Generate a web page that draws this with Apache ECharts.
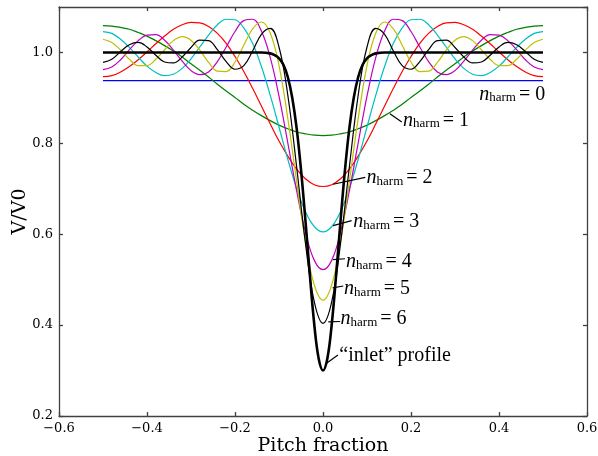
<!DOCTYPE html>
<html>
<head>
<meta charset="utf-8">
<script src="https://cdn.jsdelivr.net/npm/echarts@6/dist/echarts.min.js"></script>
<style>
  html, body { margin: 0; padding: 0; background: #fff; }
  #main { width: 598px; height: 456px; }
</style>
</head>
<body>
<div id="main"></div>
<script>
// sample points of the harmonic curves (pitch fraction)
var xHarm = [-0.50, -0.48, -0.46, -0.44, -0.42, -0.40, -0.38, -0.36, -0.34, -0.32,
  -0.30, -0.28, -0.26, -0.24, -0.22, -0.20, -0.18, -0.16, -0.14, -0.12,
  -0.10, -0.08, -0.06, -0.04, -0.02, 0.00, 0.02, 0.04, 0.06, 0.08,
  0.10, 0.12, 0.14, 0.16, 0.18, 0.20, 0.22, 0.24, 0.26, 0.28,
  0.30, 0.32, 0.34, 0.36, 0.38, 0.40, 0.42, 0.44, 0.46, 0.48, 0.50];

var xMean = [-0.50, 0.50];
var harm0 = [0.938, 0.938];

var harm1 = [1.059, 1.058, 1.055, 1.051, 1.044, 1.036, 1.026, 1.015, 1.003, 0.990, 0.975, 0.961, 0.946, 0.930, 0.915, 0.901, 0.886, 0.873, 0.861, 0.850, 0.840, 0.832, 0.825, 0.821, 0.818,
  0.817,
  0.818, 0.821, 0.825, 0.832, 0.840, 0.850, 0.861, 0.873, 0.886, 0.901, 0.915, 0.930, 0.946, 0.961, 0.975, 0.990, 1.003, 1.015, 1.026, 1.036, 1.044, 1.051, 1.055, 1.058, 1.059];

var harm2 = [0.947, 0.949, 0.957, 0.969, 0.984, 1.001, 1.019, 1.036, 1.051, 1.061, 1.066, 1.065, 1.057, 1.042, 1.020, 0.991, 0.958, 0.921, 0.882, 0.843, 0.805, 0.772, 0.743, 0.722, 0.709,
  0.705,
  0.709, 0.722, 0.743, 0.772, 0.805, 0.843, 0.882, 0.921, 0.958, 0.991, 1.020, 1.042, 1.057, 1.065, 1.066, 1.061, 1.051, 1.036, 1.019, 1.001, 0.984, 0.969, 0.957, 0.949, 0.947];

var harm3 = [1.046, 1.042, 1.029, 1.011, 0.990, 0.970, 0.956, 0.949, 0.952, 0.965, 0.986, 1.012, 1.038, 1.061, 1.073, 1.072, 1.054, 1.020, 0.969, 0.906, 0.836, 0.765, 0.701, 0.650, 0.617,
  0.605,
  0.617, 0.650, 0.701, 0.765, 0.836, 0.906, 0.969, 1.020, 1.054, 1.072, 1.073, 1.061, 1.038, 1.012, 0.986, 0.965, 0.952, 0.949, 0.956, 0.970, 0.990, 1.011, 1.029, 1.042, 1.046];

var harm4 = [0.962, 0.968, 0.984, 1.006, 1.026, 1.038, 1.039, 1.027, 1.005, 0.981, 0.960, 0.951, 0.957, 0.980, 1.012, 1.046, 1.070, 1.073, 1.047, 0.989, 0.904, 0.801, 0.696, 0.605, 0.543,
  0.522,
  0.543, 0.605, 0.696, 0.801, 0.904, 0.989, 1.047, 1.073, 1.070, 1.046, 1.012, 0.980, 0.957, 0.951, 0.960, 0.981, 1.005, 1.027, 1.039, 1.038, 1.026, 1.006, 0.984, 0.968, 0.962];

var harm5 = [1.029, 1.022, 1.005, 0.985, 0.971, 0.971, 0.985, 1.006, 1.026, 1.035, 1.027, 1.005, 0.978, 0.959, 0.958, 0.979, 1.016, 1.052, 1.067, 1.043, 0.971, 0.855, 0.717, 0.584, 0.489,
  0.455,
  0.489, 0.584, 0.717, 0.855, 0.971, 1.043, 1.067, 1.052, 1.016, 0.979, 0.958, 0.959, 0.978, 1.005, 1.027, 1.035, 1.026, 1.006, 0.985, 0.971, 0.971, 0.985, 1.005, 1.022, 1.029];

var harm6 = [0.978, 0.985, 1.002, 1.017, 1.022, 1.012, 0.994, 0.979, 0.977, 0.990, 1.011, 1.027, 1.026, 1.006, 0.980, 0.963, 0.971, 1.003, 1.040, 1.053, 1.012, 0.906, 0.749, 0.581, 0.452,
  0.404,
  0.452, 0.581, 0.749, 0.906, 1.012, 1.053, 1.040, 1.003, 0.971, 0.963, 0.980, 1.006, 1.026, 1.027, 1.011, 0.990, 0.977, 0.979, 0.994, 1.012, 1.022, 1.017, 1.002, 0.985, 0.978];

// "inlet" profile, finer in the wake
var xInlet = [-0.50, -0.30, -0.16, -0.14, -0.12, -0.11, -0.10, -0.09, -0.08, -0.07, -0.06, -0.05, -0.04, -0.03, -0.02, -0.01,
  0.00,
  0.01, 0.02, 0.03, 0.04, 0.05, 0.06, 0.07, 0.08, 0.09, 0.10, 0.11, 0.12, 0.14, 0.16, 0.30, 0.50];
var inlet = [1.000, 1.000, 1.000, 1.000, 0.998, 0.994, 0.987, 0.973, 0.946, 0.901, 0.834, 0.742, 0.631, 0.512, 0.403, 0.327,
  0.300,
  0.327, 0.403, 0.512, 0.631, 0.742, 0.834, 0.901, 0.946, 0.973, 0.987, 0.994, 0.998, 1.000, 1.000, 1.000, 1.000];

var xTickValues = [-0.6, -0.4, -0.2, 0.0, 0.2, 0.4, 0.6];
var xTickLabels = ['\u22120.6', '\u22120.4', '\u22120.2', '0.0', '0.2', '0.4', '0.6'];
var yTickValues = [0.2, 0.4, 0.6, 0.8, 1.0];
var yTickLabels = ['0.2', '0.4', '0.6', '0.8', '1.0'];

var harmNames = ['0', '1', '2', '3', '4', '5', '6'];

function pairs(xs, ys) {
  var out = [];
  for (var i = 0; i < xs.length; i++) out.push([xs[i], ys[i]]);
  return out;
}
function tickFmt(vals, labels) {
  return function (v) {
    for (var i = 0; i < vals.length; i++) {
      if (Math.abs(v - vals[i]) < 1e-6) return labels[i];
    }
    return '';
  };
}

// annotation layout (data coords): text anchor, leader start, leader end
var annoLayout = [
  { text: [0.355, 0.912] },
  { text: [0.182, 0.855], from: [0.152, 0.865], to: [0.179, 0.847] },
  { text: [0.099, 0.728], from: [0.023, 0.710], to: [0.096, 0.725] },
  { text: [0.069, 0.632], from: [0.023, 0.619], to: [0.065, 0.630] },
  { text: [0.052, 0.544], from: [0.023, 0.544], to: [0.050, 0.546] },
  { text: [0.048, 0.484], from: [0.022, 0.482], to: [0.046, 0.486] },
  { text: [0.040, 0.418], from: [0.012, 0.407], to: [0.039, 0.408] },
  { text: [0.037, 0.336], from: [0.008, 0.316], to: [0.034, 0.334] }
];

var serif = 'Liberation Serif';
var axisFont = 'DejaVu Serif';
var axisColor = '#404040';

var pointData = [];
var leaderData = [];
annoLayout.forEach(function (a, i) {
  var fmt = i < harmNames.length
    ? '{n|n}{s|harm}{e|= ' + harmNames[i] + '}'
    : '{t|\u201cinlet\u201d profile}';
  pointData.push({ coord: a.text, label: { formatter: fmt } });
  if (a.from) leaderData.push([{ coord: a.from }, { coord: a.to }]);
});

var myChart = echarts.init(document.getElementById('main'));

function lineSeries(xs, ys, color, width) {
  return {
    type: 'line',
    data: pairs(xs, ys),
    showSymbol: false,
    symbol: 'none',
    smooth: 0.4,
    lineStyle: { color: color, width: width },
    z: 2
  };
}

var series = [
  lineSeries(xMean, harm0, '#0000ff', 1.4),
  lineSeries(xHarm, harm1, '#008000', 1.2),
  lineSeries(xHarm, harm2, '#ff0000', 1.2),
  lineSeries(xHarm, harm3, '#00bfbf', 1.2),
  lineSeries(xHarm, harm4, '#bf00bf', 1.2),
  lineSeries(xHarm, harm5, '#bfbf00', 1.2),
  lineSeries(xHarm, harm6, '#000000', 1.2),
  lineSeries(xInlet, inlet, '#000000', 2.6)
];
series[0].smooth = false;
series[0].markPoint = {
  symbol: 'circle',
  symbolSize: 0,
  silent: true,
  label: {
    show: true,
    position: 'right',
    distance: 0,
    offset: [0, 2],
    color: '#000',
    rich: {
      n: { fontFamily: serif, fontStyle: 'italic', fontSize: 20, lineHeight: 20, verticalAlign: 'top', color: '#000' },
      s: { fontFamily: serif, fontSize: 13, lineHeight: 13, padding: [12, 3, 0, 0], verticalAlign: 'bottom', color: '#000' },
      e: { fontFamily: serif, fontSize: 20, lineHeight: 20, verticalAlign: 'top', color: '#000' },
      t: { fontFamily: serif, fontSize: 20, lineHeight: 20, color: '#000' }
    }
  },
  data: pointData
};
series[0].markLine = {
  symbol: ['none', 'none'],
  silent: true,
  label: { show: false },
  lineStyle: { color: '#000', width: 1.2, type: 'solid' },
  data: leaderData
};

var axisCommon = {
  type: 'value',
  axisLine: { show: true, onZero: false, lineStyle: { color: axisColor, width: 1.3 } },
  axisTick: { show: true, inside: true, length: 4, lineStyle: { color: axisColor, width: 1.3 } },
  splitLine: { show: false }
};

var option = {
  animation: false,
  backgroundColor: '#fff',
  grid: { left: 59, right: 11, top: 7, bottom: 40, containLabel: false, outerBoundsMode: 'none' },
  xAxis: [
    echarts.util.merge({
      min: -0.6, max: 0.6, interval: 0.2, position: 'bottom',
      name: 'Pitch fraction', nameLocation: 'middle', nameGap: 21, nameMoveOverlap: false,
      nameTextStyle: { fontFamily: axisFont, fontSize: 19, color: '#000' },
      axisLabel: { margin: 6, fontFamily: axisFont, fontSize: 13, color: '#000',
        formatter: tickFmt(xTickValues, xTickLabels) }
    }, axisCommon, false),
    echarts.util.merge({
      min: -0.6, max: 0.6, interval: 0.2, position: 'top',
      axisLabel: { show: false }
    }, axisCommon, false)
  ],
  yAxis: [
    echarts.util.merge({
      min: 0.2, max: 1.1, interval: 0.2, position: 'left',
      name: 'V/V0', nameLocation: 'middle', nameGap: 29, nameRotate: 90, nameMoveOverlap: false,
      nameTextStyle: { fontFamily: axisFont, fontSize: 19, color: '#000' },
      axisLabel: { margin: 6, fontFamily: axisFont, fontSize: 13, color: '#000',
        showMaxLabel: false, formatter: tickFmt(yTickValues, yTickLabels) }
    }, axisCommon, false),
    echarts.util.merge({
      min: 0.2, max: 1.1, interval: 0.2, position: 'right',
      axisLabel: { show: false }
    }, axisCommon, false)
  ],
  series: series
};

myChart.setOption(option);
</script>
</body>
</html>
